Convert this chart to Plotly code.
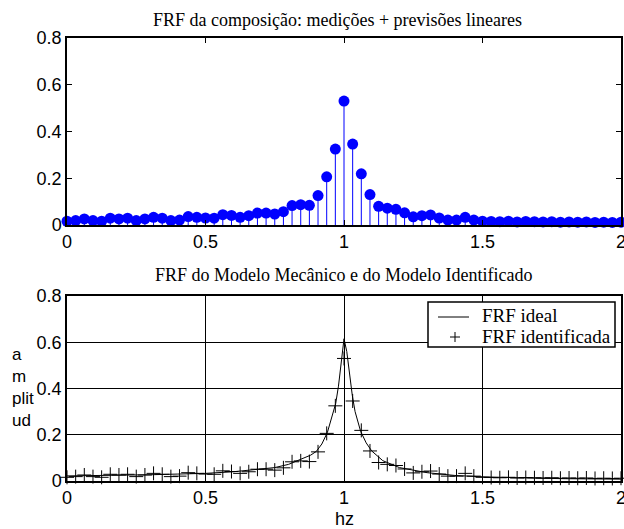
import numpy as np
import plotly.graph_objects as go

# ---- data ----
freq = np.linspace(0, 2, 65)  # sample grid (step 1/32)
frf_meas = [0.016, 0.019, 0.026, 0.019, 0.016, 0.029, 0.026, 0.029, 0.019, 0.026,
            0.033, 0.029, 0.019, 0.021, 0.036, 0.033, 0.030, 0.029, 0.044, 0.041,
            0.033, 0.040, 0.051, 0.051, 0.047, 0.057, 0.083, 0.087, 0.084, 0.126,
            0.206, 0.325, 0.530, 0.346, 0.219, 0.130, 0.080, 0.072, 0.067, 0.052,
            0.035, 0.040, 0.043, 0.030, 0.021, 0.021, 0.033, 0.021, 0.016, 0.015,
            0.014, 0.016, 0.013, 0.015, 0.014, 0.013, 0.014, 0.012, 0.013, 0.012,
            0.013, 0.011, 0.012, 0.011, 0.012]

ideal_x = [0, 0.1, 0.2, 0.3, 0.4, 0.5, 0.6, 0.7, 0.75, 0.8, 0.85, 0.88, 0.9, 0.92,
           0.94, 0.96, 0.97, 0.98, 0.99, 1.0, 1.01, 1.02, 1.03, 1.04, 1.06, 1.08,
           1.1, 1.14, 1.2, 1.3, 1.4, 1.5, 1.6, 1.7, 1.8, 1.9, 2.0]
ideal_y = [0.022, 0.023, 0.025, 0.027, 0.030, 0.033, 0.040, 0.050, 0.058, 0.072,
           0.095, 0.112, 0.128, 0.160, 0.210, 0.290, 0.335, 0.410, 0.520, 0.615,
           0.560, 0.460, 0.370, 0.300, 0.215, 0.165, 0.130, 0.088, 0.058, 0.036,
           0.024, 0.018, 0.014, 0.012, 0.010, 0.009, 0.008]

x_ticks = [0, 0.5, 1, 1.5, 2]
x_labels = ["0", "0.5", "1", "1.5", "2"]
y_ticks = [0, 0.2, 0.4, 0.6, 0.8]
y_labels = ["0", "0.2", "0.4", "0.6", "0.8"]

title_top = "FRF da composição: medições + previsões lineares"
title_bot = "FRF do Modelo Mecânico e do Modelo Identificado"
legend_names = ["FRF ideal", "FRF identificada"]

W, H = 624, 529
ML, MR, MT, MB = 67, 3, 0, 0
SERIF = "Liberation Serif, Times New Roman, serif"
SANS = "Liberation Sans, Arial, sans-serif"


def px_x(p):
    return (p - ML) / (W - ML - MR)


def px_y(p):
    return (H - MB - p) / (H - MT - MB)


# stems
sx, sy = [], []
for xv, yv in zip(freq, frf_meas):
    sx += [xv, xv, None]
    sy += [0, yv, None]

fig = go.Figure()
fig.add_trace(go.Scatter(x=sx, y=sy, mode="lines", line=dict(color="#0000FF", width=1),
                         xaxis="x", yaxis="y", showlegend=False, hoverinfo="skip"))
fig.add_trace(go.Scatter(x=freq, y=frf_meas, mode="markers",
                         marker=dict(color="#0000FF", size=11, line=dict(width=0)),
                         xaxis="x", yaxis="y", showlegend=False, cliponaxis=False))

fig.add_trace(go.Scatter(x=ideal_x, y=ideal_y, mode="lines", name=legend_names[0],
                         line=dict(color="black", width=1), xaxis="x2", yaxis="y2",
                         showlegend=False))
fig.add_trace(go.Scatter(x=freq, y=frf_meas, mode="markers", name=legend_names[1],
                         marker=dict(symbol="cross-thin", size=10, color="black",
                                     line=dict(color="black", width=1)),
                         xaxis="x2", yaxis="y2", cliponaxis=False, showlegend=False))

axis_common = dict(showline=True, linecolor="black", linewidth=1.5, mirror="ticks",
                   ticks="inside", ticklen=5, tickcolor="black", zeroline=False,
                   ticklabeloverflow="allow", automargin=False,
                   tickfont=dict(family=SANS, size=18, color="black"))

# manual legend (box, line sample, plus sample)
lg_x0, lg_x1, lg_y0, lg_y1 = 428, 615, 302, 347
shapes = [
    dict(type="rect", xref="paper", yref="paper", x0=px_x(lg_x0), x1=px_x(lg_x1),
         y0=px_y(lg_y1), y1=px_y(lg_y0), line=dict(color="black", width=1.5),
         fillcolor="white", layer="above"),
    dict(type="line", xref="paper", yref="paper", x0=px_x(438), x1=px_x(469),
         y0=px_y(317), y1=px_y(317), line=dict(color="black", width=1), layer="above"),
    dict(type="line", xref="paper", yref="paper", x0=px_x(450), x1=px_x(460),
         y0=px_y(337), y1=px_y(337), line=dict(color="black", width=1), layer="above"),
    dict(type="line", xref="paper", yref="paper", x0=px_x(455), x1=px_x(455),
         y0=px_y(332), y1=px_y(342), line=dict(color="black", width=1), layer="above"),
]

annotations = [
    dict(text=title_top, x=px_x(337), y=px_y(20), xref="paper", yref="paper",
         showarrow=False, font=dict(family=SERIF, size=18, color="black"),
         xanchor="center", yanchor="middle"),
    dict(text=title_bot, x=px_x(343), y=px_y(275), xref="paper", yref="paper",
         showarrow=False, font=dict(family=SERIF, size=18, color="black"),
         xanchor="center", yanchor="middle"),
    dict(text="hz", x=px_x(344), y=px_y(519), xref="paper", yref="paper",
         showarrow=False, font=dict(family=SANS, size=18, color="black"),
         xanchor="center", yanchor="middle"),
    dict(text="a<br>m<br>plit<br>ud", x=px_x(10), y=px_y(387),
         xref="paper", yref="paper", showarrow=False, align="left",
         font=dict(family=SANS, size=17, color="black"),
         xanchor="left", yanchor="middle"),
    dict(text=legend_names[0], x=px_x(480), y=px_y(316), xref="paper", yref="paper",
         showarrow=False, font=dict(family=SERIF, size=19, color="black"),
         xanchor="left", yanchor="middle"),
    dict(text=legend_names[1], x=px_x(480), y=px_y(336), xref="paper", yref="paper",
         showarrow=False, font=dict(family=SERIF, size=19, color="black"),
         xanchor="left", yanchor="middle"),
]

fig.update_layout(
    width=W, height=H,
    margin=dict(l=ML, r=MR, t=MT, b=MB, autoexpand=False),
    paper_bgcolor="white", plot_bgcolor="white",
    showlegend=False,
    xaxis=dict(domain=[0, 1], anchor="y", range=[0, 2], tickvals=x_ticks,
               ticktext=x_labels, showgrid=False, **axis_common),
    yaxis=dict(domain=[px_y(225), px_y(38)], anchor="x", range=[0, 0.8], tickvals=y_ticks,
               ticktext=y_labels, showgrid=False, **axis_common),
    xaxis2=dict(domain=[0, 1], anchor="y2", range=[0, 2], tickvals=x_ticks,
                ticktext=x_labels, showgrid=True, gridcolor="black", gridwidth=1,
                **axis_common),
    yaxis2=dict(domain=[px_y(481), px_y(296)], anchor="x2", range=[0, 0.8], tickvals=y_ticks,
                ticktext=y_labels, showgrid=True, gridcolor="black", gridwidth=1,
                **axis_common),
    shapes=shapes,
    annotations=annotations,
)

fig.write_html("out.html")
